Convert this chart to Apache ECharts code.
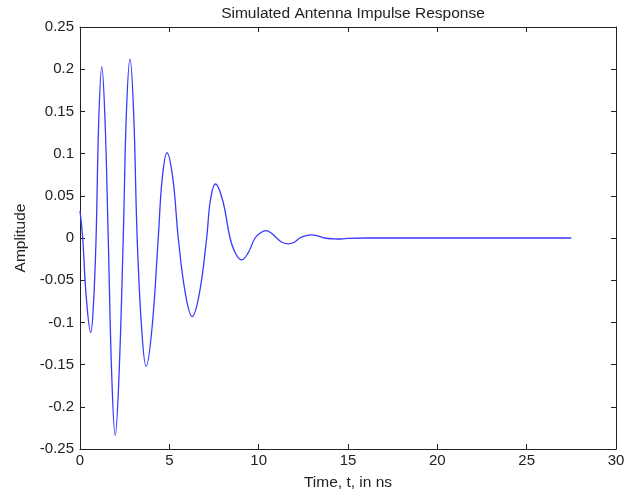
<!DOCTYPE html>
<html>
<head>
<meta charset="utf-8">
<script src="https://cdn.jsdelivr.net/npm/echarts@6/dist/echarts.min.js"></script>
<style>html,body{margin:0;padding:0;background:#fff}#c{width:637px;height:496px}</style>
</head>
<body>
<div id="c"></div>
<script>
var titleText = 'Simulated Antenna Impulse Response';
var xName = 'Time, t, in ns';
var yName = 'Amplitude';
var timeNs = [0, 0.15, 0.35, 0.6, 0.75, 0.9, 1.05, 1.22, 1.4, 1.58, 1.78, 1.97, 2.18, 2.42, 2.6, 2.8, 3.0, 3.2, 3.45, 3.7, 4.03, 4.38, 4.6, 4.87, 5.2, 5.5, 5.9, 6.28, 6.68, 7.09, 7.3, 7.58, 7.98, 8.4, 8.7, 9.05, 9.4, 9.8, 10.1, 10.4, 10.7, 11.0, 11.3, 11.65, 12.0, 12.3, 12.6, 12.96, 13.3, 13.7, 14.2, 14.6, 15.0, 16, 18, 20, 22, 24, 26, 27.5];
var amplitude = [0.032, 0.0, -0.07, -0.112, -0.08, 0.0, 0.14, 0.203, 0.14, 0.0, -0.165, -0.234, -0.165, 0.0, 0.15, 0.212, 0.15, 0.0, -0.107, -0.152, -0.107, 0.0, 0.07, 0.101, 0.07, 0.0, -0.066, -0.093, -0.066, 0.0, 0.045, 0.064, 0.045, 0.0, -0.018, -0.026, -0.018, 0.0, 0.006, 0.0087, 0.006, 0.0, -0.005, -0.007, -0.005, 0.0, 0.0025, 0.0036, 0.0025, 0.0, -0.001, -0.0012, -0.0005, 0, 0, 0, 0, 0, 0, 0];
var xTicks = [0, 5, 10, 15, 20, 25, 30];
var yTicks = [-0.25, -0.2, -0.15, -0.1, -0.05, 0, 0.05, 0.1, 0.15, 0.2, 0.25];

var pts = timeNs.map(function (t, i) { return [t, amplitude[i]]; });
var font = 'Liberation Sans, Arial, sans-serif';
var axisLine = { show: true, onZero: false, lineStyle: { color: '#222', width: 1 } };
var tick = { show: true, inside: true, length: 5, lineStyle: { color: '#222' } };
function fmtY(v) { return String(Math.round(v * 100) / 100); }

var chart = echarts.init(document.getElementById('c'), null, { renderer: 'canvas' });
chart.setOption({
  animation: false,
  backgroundColor: '#fff',
  title: { text: titleText, left: 348, textAlign: 'center', top: 1,
    textStyle: { fontFamily: font, fontSize: 15.5, fontWeight: 'normal', color: '#222' } },
  grid: { left: 80, right: 21, top: 27, bottom: 47 },
  xAxis: [
    { type: 'value', min: xTicks[0], max: xTicks[xTicks.length - 1], interval: 5,
      name: xName, nameLocation: 'middle', nameGap: 26,
      nameTextStyle: { fontFamily: font, fontSize: 15.5, color: '#222' },
      axisLine: axisLine, axisTick: tick, splitLine: { show: false },
      axisLabel: { fontFamily: font, fontSize: 15, color: '#222', margin: 4 } },
    { type: 'value', position: 'top', min: xTicks[0], max: xTicks[xTicks.length - 1], interval: 5,
      axisLine: axisLine, axisTick: tick, splitLine: { show: false }, axisLabel: { show: false } }
  ],
  yAxis: [
    { type: 'value', min: yTicks[0], max: yTicks[yTicks.length - 1], interval: 0.05,
      name: yName, nameLocation: 'middle', nameGap: 51, nameRotate: 90,
      nameTextStyle: { fontFamily: font, fontSize: 15.5, color: '#222' },
      axisLine: axisLine, axisTick: tick, splitLine: { show: false },
      axisLabel: { fontFamily: font, fontSize: 15, color: '#222', margin: 6, formatter: fmtY } },
    { type: 'value', position: 'right', min: yTicks[0], max: yTicks[yTicks.length - 1], interval: 0.05,
      axisLine: axisLine, axisTick: tick, splitLine: { show: false }, axisLabel: { show: false } }
  ],
  series: [{
    type: 'line', data: pts, smooth: 0.4, showSymbol: false,
    lineStyle: { color: '#3a3aff', width: 1.3 }
  }]
});
</script>
</body>
</html>
